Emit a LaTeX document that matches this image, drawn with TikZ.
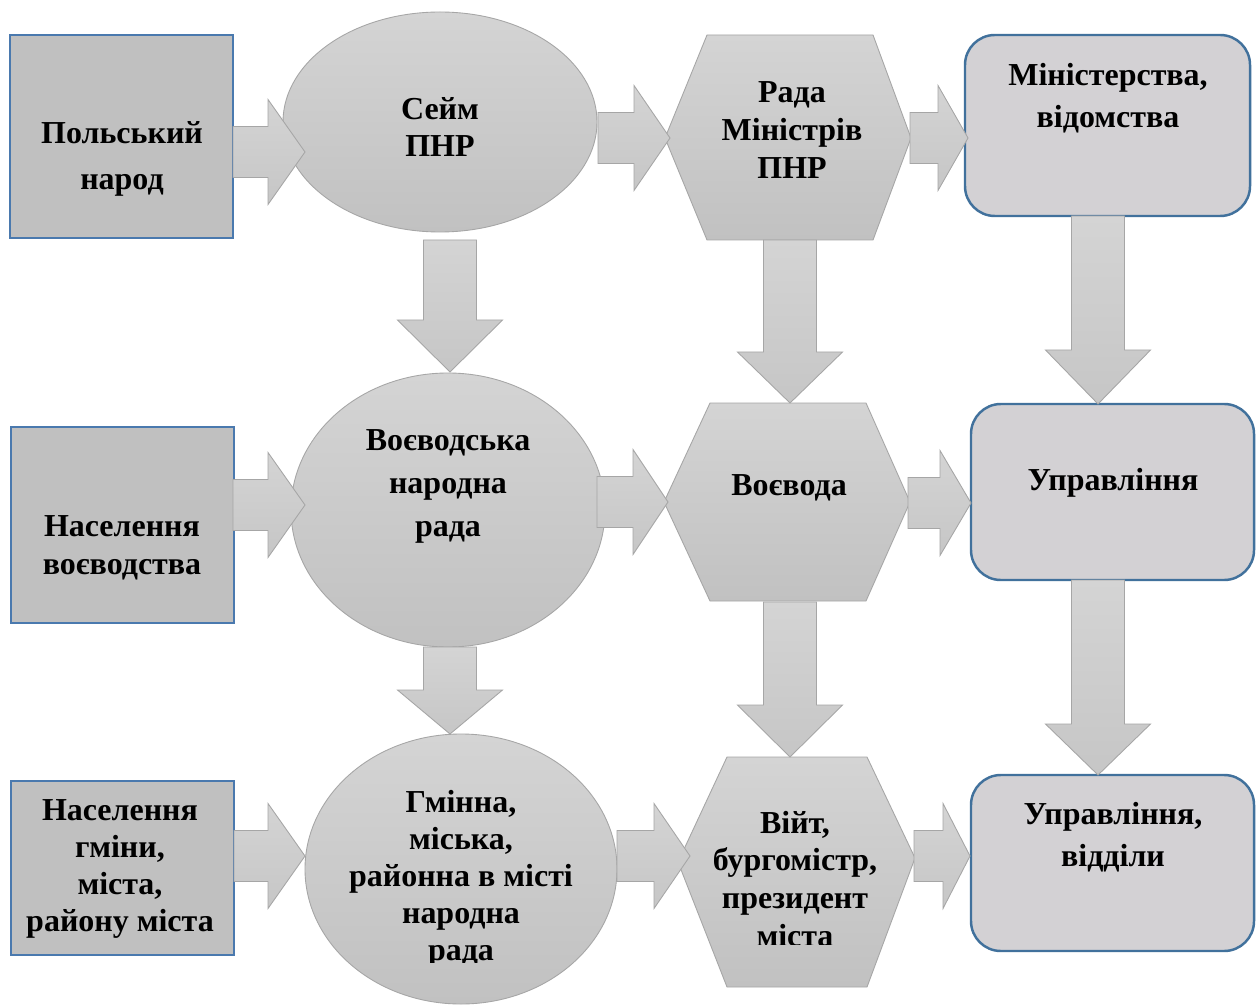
\documentclass[tikz,border=0pt]{standalone}
\usepackage{fontspec}
\setmainfont{Liberation Serif}
\usetikzlibrary{shapes.geometric}

\definecolor{boxfill}{HTML}{C0C0C0}
\definecolor{boxline}{HTML}{4A79AE}
\definecolor{rrfill}{HTML}{D3D1D4}
\definecolor{rrline}{HTML}{41719C}
\definecolor{grayline}{HTML}{A6A6A6}
\definecolor{gtop}{HTML}{D4D4D4}
\definecolor{gbot}{HTML}{C1C1C1}
\definecolor{atop}{HTML}{D4D4D4}
\definecolor{abot}{HTML}{C6C6C6}

\tikzset{
  sqbox/.style={draw=boxline, line width=1.1pt, fill=boxfill},
  rrbox/.style={draw=rrline, line width=1.4pt, fill=rrfill, rounded corners=17pt},
  grayshape/.style={draw=grayline, line width=0.5pt, top color=gtop, bottom color=gbot},
  blockarrow/.style={draw=grayline, line width=0.5pt, top color=atop, bottom color=abot},
  lbl/.style={font=\bfseries\fontsize{18.2}{#1}\selectfont, align=center, inner sep=0pt},
  lbl/.default=21.6
}

% right-pointing block arrow: start x, tip x, centre y, x where the head begins
\newcommand\rightblock[4]{%
  \path[blockarrow] (#1,#3-25.5) -- (#4,#3-25.5) -- (#4,#3-52.5) -- (#2,#3)
    -- (#4,#3+52.5) -- (#4,#3+25.5) -- (#1,#3+25.5) -- cycle;}
% downward block arrow: centre x, start y, tip y, y where the head begins
\newcommand\downblock[4]{%
  \path[blockarrow] (#1-26.5,#2) -- (#1+26.5,#2) -- (#1+26.5,#4) -- (#1+52.5,#4)
    -- (#1,#3) -- (#1-52.5,#4) -- (#1-26.5,#4) -- cycle;}

\begin{document}
\begin{tikzpicture}[x=0.02cm, y=-0.02cm]
\useasboundingbox[fill=white] (0,0) rectangle (1256,1006);

% ---- left column: population boxes
\path[sqbox] (10,35) rectangle (233,238);
\path[sqbox] (11,427) rectangle (234,623);
\path[sqbox] (11,781) rectangle (234,955);

% ---- councils (ellipses)
\path[grayshape] (440,122) ellipse [x radius=157, y radius=110];
\path[grayshape] (448,510) ellipse [x radius=157, y radius=137];
\path[grayshape] (461,869) ellipse [x radius=156, y radius=135];

% ---- executive bodies (hexagons)
\path[grayshape] (707,35) -- (873,35) -- (911,138) -- (873,240) -- (707,240) -- (665,138) -- cycle;
\path[grayshape] (710,403) -- (866,403) -- (910,502) -- (866,601) -- (710,601) -- (664,502) -- cycle;
\path[grayshape] (727,757) -- (867,757) -- (915,858) -- (867,987) -- (727,987) -- (678,862) -- cycle;

% ---- administrative offices
\path[rrbox] (965,35) rectangle (1250,216);
\path[rrbox] (971,404) rectangle (1254,580);
\path[rrbox] (971,775) rectangle (1254,951);

% ---- texts
\node[lbl=26.2] (narod) at (122,159) {Польський\\народ};
\node[lbl] (sejm) at (440,127) {Сейм\\ПНР};
\node[lbl] (rada) at (792,130) {Рада\\Міністрів\\ПНР};
\node[lbl=23.9] (min) at (1108,98) {Міністерства,\\відомства};

\node[lbl] (nasv) at (122,548) {Населення\\воєводства};
\node[lbl=24.5] (wrn) at (448,486) {Воєводська\\народна\\рада};
\node[lbl] (woj) at (789,488) {Воєвода};
\node[lbl] (upr) at (1113,483) {Управління};

\node[lbl=21] (nasg) at (120,869) {Населення\\гміни,\\міста,\\району міста};
\begin{scope}
  \clip (300,760) rectangle (620,962);
  \node[lbl=21] (grn) at (461,879) {Гмінна,\\міська,\\районна в місті\\народна\\рада};
\end{scope}
\begin{scope}
  \clip (680,780) rectangle (915,944);
  \node[lbl=21.6] (wojt) at (795,879) {Війт,\\бургомістр,\\президент\\міста};
\end{scope}
\node[lbl=23.9] (uprw) at (1113,837) {Управління,\\відділи};

% ---- horizontal block arrows
\rightblock{233}{305}{152}{268}
\rightblock{598}{670}{138}{634}
\rightblock{910}{968}{138}{938}
\rightblock{233}{305}{505}{268}
\rightblock{597}{668}{502}{633}
\rightblock{908}{971}{503}{940}
\rightblock{234}{305}{856}{268}
\rightblock{617}{690}{856}{654}
\rightblock{914}{970}{856}{943}

% ---- vertical block arrows
\downblock{450}{240}{372}{320}
\downblock{790}{240}{403}{352}
\downblock{1098}{216}{404}{350}
\downblock{450}{647}{734}{690}
\downblock{790}{602}{757}{705}
\downblock{1098}{580}{775}{724}
\end{tikzpicture}
\end{document}
